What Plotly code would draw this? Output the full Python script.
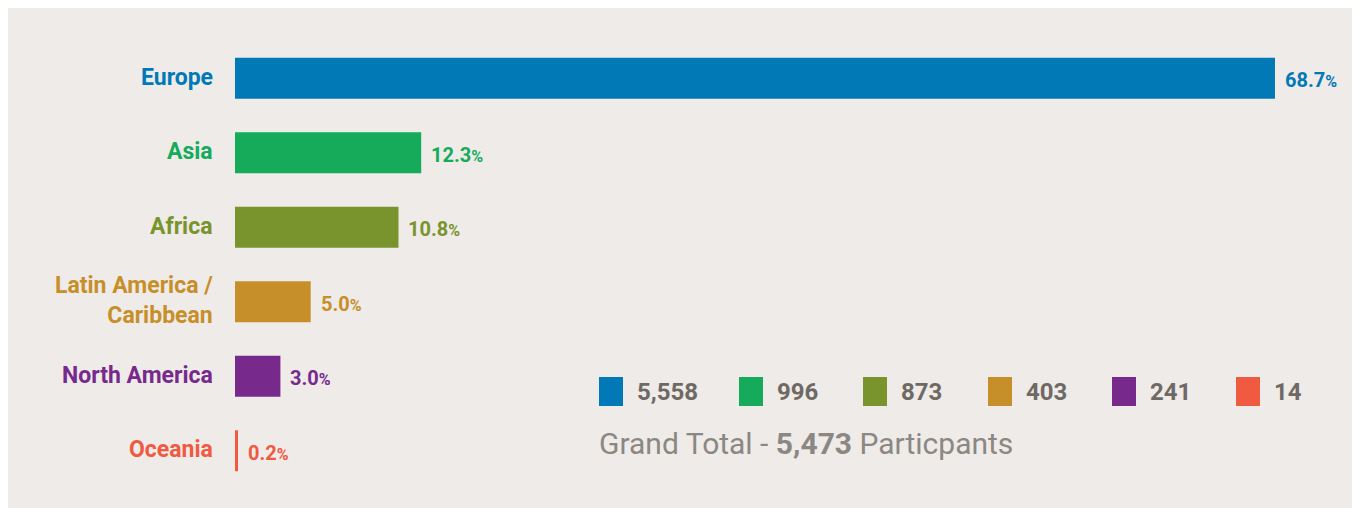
import plotly.graph_objects as go

# ---- data ----
regions = ["Europe", "Asia", "Africa", "Latin America /<br>Caribbean", "North America", "Oceania"]
percent = [68.7, 12.3, 10.8, 5.0, 3.0, 0.2]
counts = [5558, 996, 873, 403, 241, 14]
grand_total = 5473
colors = ["#0079b6", "#15ab5a", "#79942c", "#c78f29", "#772a8c", "#ef5a41"]

BG = "#efebe8"
OFF = 8  # page offset of the figure (body margin)
W, H = 1360, 508
L, R, T, B = 227, 93, 33, 28
PW, PH = W - L - R, H - T - B

def px_x(px):
    return (px - OFF - L) / PW

def px_y(py):
    return (H - B - (py - OFF)) / PH

fig = go.Figure()
fig.add_trace(go.Bar(
    x=percent, y=regions, orientation="h",
    marker=dict(color=colors, line=dict(width=0)),
    hoverinfo="skip", showlegend=False,
))

annotations = []
# category labels
for reg, c in zip(regions, colors):
    annotations.append(dict(
        x=0, y=reg, xref="paper", yref="y", xanchor="right", yanchor="middle",
        xshift=-21, yshift=1, showarrow=False, align="right",
        text=f"<b>{reg}</b>", borderpad=0,
        font=dict(family="Roboto", size=23, color=c),
    ))

# percentage labels
for reg, p, c in zip(regions, percent, colors):
    annotations.append(dict(
        x=p, y=reg, xref="x", yref="y", xanchor="left", yanchor="middle",
        xshift=8, yshift=-2, showarrow=False,
        text=f"<b>{p:.1f}<span style='font-size:16px'>%</span></b>",
        font=dict(family="Roboto", size=20, color=c),
    ))

# legend-like count boxes
legend_x = [599, 739, 863, 988, 1112, 1236]
shapes = []
for lx, cnt, c in zip(legend_x, counts, colors):
    shapes.append(dict(type="rect", xref="paper", yref="paper",
                       x0=px_x(lx), x1=px_x(lx + 24), y0=px_y(406), y1=px_y(377),
                       fillcolor=c, line=dict(width=0)))
    annotations.append(dict(
        x=px_x(lx + 36), y=px_y(392), xref="paper", yref="paper",
        xanchor="left", yanchor="middle", showarrow=False,
        text=f"<b>{cnt:,}</b>",
        font=dict(family="Roboto", size=24, color="#6e6964"),
    ))

annotations.append(dict(
    x=px_x(597), y=px_y(443), xref="paper", yref="paper",
    xanchor="left", yanchor="middle", showarrow=False,
    text=f"Grand Total - <b>{grand_total:,}</b> Particpants",
    font=dict(family="Roboto", size=30, color="#8b8782"),
))

fig.update_layout(
    width=W, height=H,
    margin=dict(l=L, r=R, t=T, b=B, pad=0),
    paper_bgcolor=BG, plot_bgcolor=BG,
    bargap=0.45,
    xaxis=dict(range=[0, 68.7], visible=False, fixedrange=True),
    yaxis=dict(
        categoryorder="array", categoryarray=regions, autorange="reversed",
        showticklabels=False, ticks="", showline=False, showgrid=False, zeroline=False,
    ),
    shapes=shapes,
    annotations=annotations,
)

fig.write_html("out.html")
